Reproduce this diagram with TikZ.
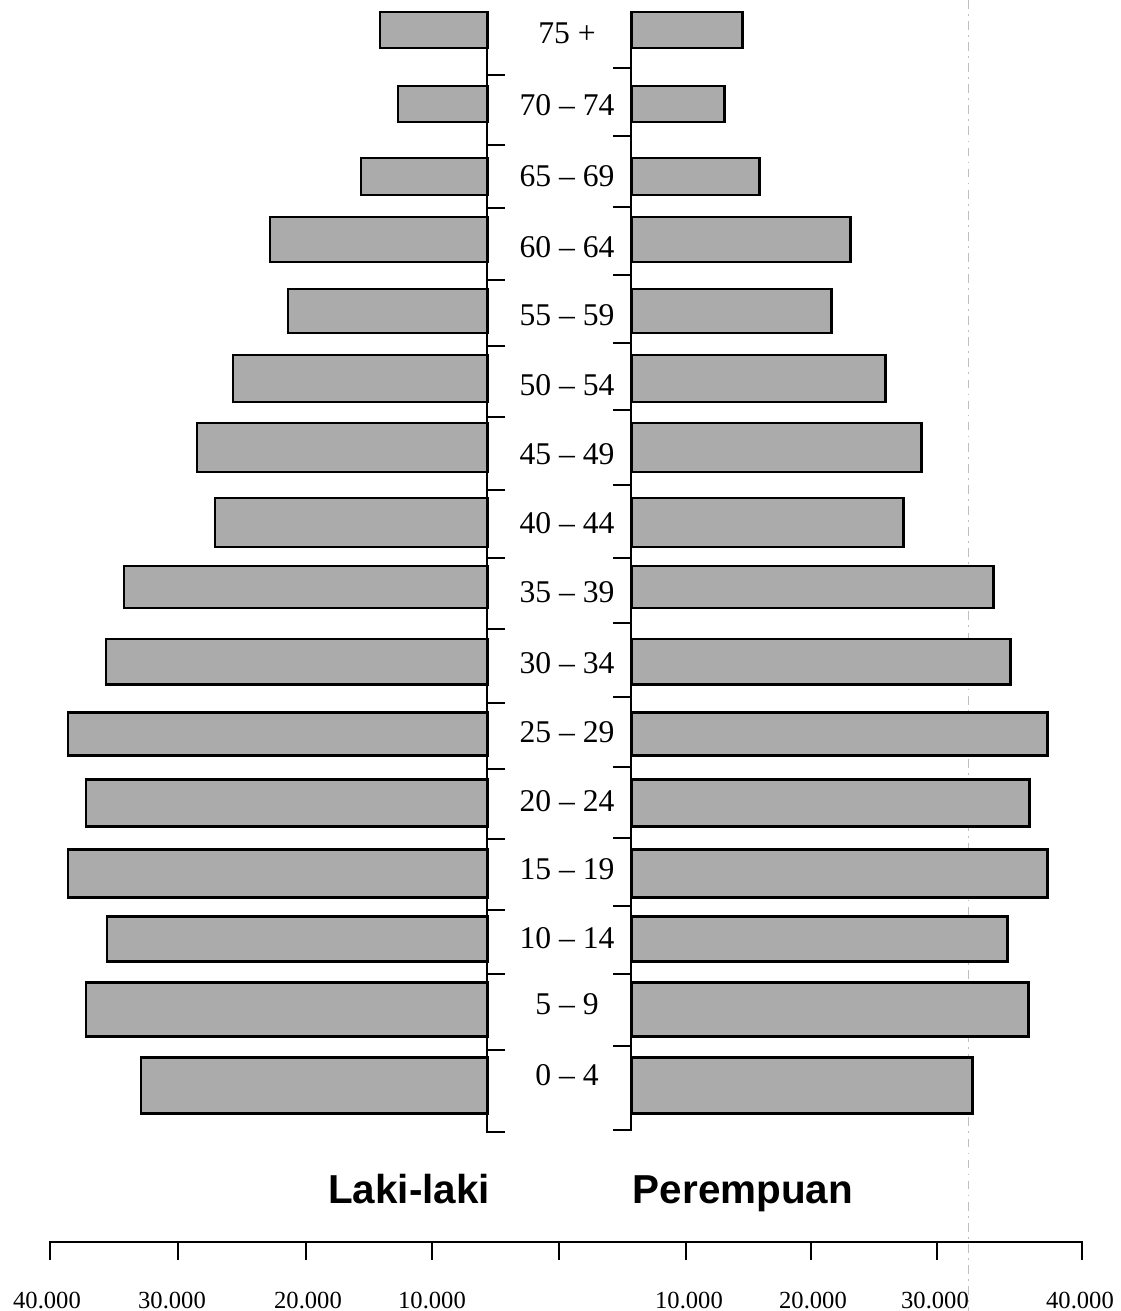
\documentclass[tikz,border=0pt]{standalone}
\usepackage{fontspec}
\setmainfont{Liberation Serif}
\newfontfamily\headfont{Liberation Sans}
\usetikzlibrary{positioning}

\begin{document}
\begin{tikzpicture}[x=0.02cm, y=-0.02cm, line width=1.6pt,
		bar/.style={draw=black, fill=black!33, line width=1.7pt},
		agelabel/.style={font=\fontsize{18}{21}\selectfont, inner sep=0pt, anchor=base},
		sexlabel/.style={font=\headfont\bfseries\fontsize{23}{27}\selectfont, inner sep=0pt, anchor=base},
		scalelabel/.style={font=\fontsize{14}{16}\selectfont, inner sep=0pt, anchor=base}]
		\useasboundingbox (0,0) rectangle (1120,1311);
		% Faint scan line
		\draw[gray!50, line width=0.5pt, dash pattern=on 5pt off 3pt on 1pt off 3pt] (968,0) -- (968,1311);
		% Draw bars and age groups
		\foreach \i/\lab/\ly/\yt/\yb/\xl/\xr in {
				1/75 +/33/12/48/380/742,
				2/70 -- 74/105/86/122/398/724,
				3/65 -- 69/176/158/195/361/759,
				4/60 -- 64/246/217/262/270/850,
				5/55 -- 59/314/289/333/288/831,
				6/50 -- 54/384/355/402/233/885,
				7/45 -- 49/453/423/472/197/921,
				8/40 -- 44/522/498/547/215/903,
				9/35 -- 39/591/566/608/124/993,
				10/30 -- 34/662/639/684/106/1010,
				11/25 -- 29/731/712/755/68/1047,
				12/20 -- 24/800/779/826/86/1029,
				13/15 -- 19/868/849/897/68/1047,
				14/10 -- 14/937/916/961/107/1007,
				15/5 -- 9/1003/982/1036/86/1028,
				16/0 -- 4/1074/1057/1113/141/972} {
			\draw[bar] (\xl,\yt) rectangle (487,\yb);
			\draw[bar] (631,\yt) rectangle (\xr,\yb);
			\node[agelabel] (age\i) at (567,\ly+11) {\lab};
		}
		% Vertical axes with ticks
		\draw (487,12) coordinate (ltop) -- (487,1132) coordinate (lbot) -- ++(18,0);
		\draw (631,12) coordinate (rtop) -- (631,1130) coordinate (rbot) -- ++(-18,0);
		\foreach \y in {75,145,208,280,346,417,490,558,629,703,769,839,910,974,1050}
			\draw (487,\y) -- ++(18,0);
		\foreach \y in {68,136,207,275,343,410,485,558,623,697,767,838,906,974,1046}
			\draw (631,\y) -- ++(-18,0);
		% Sex labels
		\node[sexlabel] (male) at (409,1203) {Laki-laki};
		\node[sexlabel] (female) at (743,1203) {Perempuan};
		% Horizontal scale
		\draw (50,1260) -- (50,1242) -- (1082,1242) -- (1082,1260);
		\foreach \x in {178,306,432,559,686,811,937}
			\draw (\x,1242) -- ++(0,18);
		\foreach \x/\val/\n in {47/40.000/m4, 172/30.000/m3, 308/20.000/m2, 432/10.000/m1,
				689/10.000/f1, 813/20.000/f2, 935/30.000/f3, 1080/40.000/f4}
			\node[scalelabel] (\n) at (\x,1308) {\val};
	\end{tikzpicture}
\end{document}
